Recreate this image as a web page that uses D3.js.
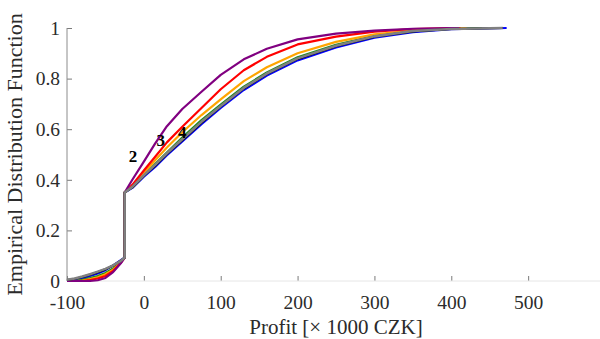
<!DOCTYPE html>
<html>
<head>
<meta charset="utf-8">
<script src="https://cdn.jsdelivr.net/npm/d3@7"></script>
<style>
  html, body { margin: 0; padding: 0; background: #fff; }
  svg { display: block; }
  text { font-family: "Liberation Serif", "Times New Roman", serif; }
</style>
</head>
<body>
<svg id="chart" width="600" height="339"></svg>
<script>
// ---- data ----
const xGrid = [-100, -90, -80, -70, -60, -50, -40, -30, -25, -25, -15, 0, 15, 30, 50, 75, 100, 130, 160, 200, 250, 300, 350, 400];

const seriesNames  = ["blue", "green", "orange", "red", "purple", "black", "gray"];
const seriesColors = ["#0000ff", "#1a8a1a", "#ffa500", "#ff0000", "#800080", "#000000", "#808080"];
const seriesEnd    = [472, 440, 420, 412, 410, 467, 467];

const yBlue   = [0.000, 0.003, 0.010, 0.020, 0.030, 0.043, 0.062, 0.082, 0.092, 0.350, 0.368, 0.412, 0.452, 0.497, 0.552, 0.620, 0.684, 0.755, 0.812, 0.872, 0.923, 0.962, 0.984, 0.995];
const yGreen  = [0.000, 0.000, 0.005, 0.012, 0.020, 0.032, 0.050, 0.078, 0.092, 0.350, 0.371, 0.418, 0.463, 0.508, 0.567, 0.636, 0.697, 0.768, 0.824, 0.884, 0.934, 0.969, 0.988, 0.997];
const yOrange = [0.000, 0.000, 0.002, 0.008, 0.015, 0.027, 0.045, 0.075, 0.092, 0.350, 0.374, 0.426, 0.478, 0.528, 0.588, 0.656, 0.718, 0.790, 0.845, 0.900, 0.945, 0.975, 0.990, 0.998];
const yRed    = [0.000, 0.000, 0.000, 0.004, 0.010, 0.020, 0.040, 0.072, 0.092, 0.350, 0.380, 0.437, 0.492, 0.548, 0.610, 0.684, 0.758, 0.833, 0.886, 0.935, 0.966, 0.986, 0.996, 1.000];
const yPurple = [0.000, 0.000, 0.000, 0.000, 0.003, 0.012, 0.035, 0.070, 0.092, 0.350, 0.400, 0.472, 0.545, 0.612, 0.680, 0.748, 0.815, 0.876, 0.918, 0.955, 0.978, 0.990, 0.997, 1.000];
const yBlack  = [0.004, 0.009, 0.016, 0.025, 0.035, 0.046, 0.061, 0.080, 0.092, 0.350, 0.370, 0.416, 0.457, 0.502, 0.557, 0.626, 0.690, 0.761, 0.818, 0.878, 0.928, 0.966, 0.987, 0.996];
const yGray   = [0.005, 0.010, 0.018, 0.027, 0.037, 0.048, 0.062, 0.080, 0.092, 0.350, 0.372, 0.418, 0.460, 0.505, 0.560, 0.629, 0.692, 0.763, 0.820, 0.880, 0.930, 0.967, 0.988, 0.996];
const seriesValues = [yBlue, yGreen, yOrange, yRed, yPurple, yBlack, yGray];

const xTicks = [-100, 0, 100, 200, 300, 400, 500];
const xTickLabels = ["-100", "0", "100", "200", "300", "400", "500"];
const yTicks = [0, 0.2, 0.4, 0.6, 0.8, 1];
const yTickLabels = ["0", "0.2", "0.4", "0.6", "0.8", "1"];

const curveLabels = ["2", "3", "4"];
const curveLabelX = [-14, 22, 50];
const curveLabelY = [0.494, 0.557, 0.590];

const xTitle = "Profit [× 1000 CZK]";
const yTitle = "Empirical Distribution Function";

// ---- layout ----
const svg = d3.select("#chart");
const x = d3.scaleLinear().domain([-100, 600]).range([67, 605]);
const y = d3.scaleLinear().domain([0, 1]).range([281, 28]);

// x axis
const gx = svg.append("g").attr("transform", `translate(0,${y(0)})`);
gx.call(d3.axisBottom(x).tickValues(xTicks).tickSize(0).tickPadding(14)
  .tickFormat((d, i) => xTickLabels[i]));
gx.select(".domain").remove();
gx.append("line").attr("x1", x(-100)).attr("x2", 600).attr("y1", 0).attr("y2", 0)
  .attr("stroke", "#e6e6e6").attr("stroke-width", 1);
gx.selectAll(".tick").append("line").attr("y1", 0).attr("y2", -5)
  .attr("stroke", "#7a7a7a").attr("stroke-width", 1);
gx.selectAll(".tick text").attr("font-size", 19.5).attr("fill", "#2b2b2b")
  .attr("font-family", "Liberation Serif");

// y axis
const gy = svg.append("g").attr("transform", `translate(${x(-100)},0)`);
gy.call(d3.axisLeft(y).tickValues(yTicks).tickSize(0).tickPadding(7)
  .tickFormat((d, i) => yTickLabels[i]));
gy.select(".domain").remove();
gy.append("line").attr("x1", 0).attr("x2", 0).attr("y1", y(0)).attr("y2", y(1))
  .attr("stroke", "#8c8c8c").attr("stroke-width", 1);
gy.selectAll(".tick").append("line").attr("x1", 0).attr("x2", 5)
  .attr("stroke", "#7a7a7a").attr("stroke-width", 1);
gy.selectAll(".tick text").attr("font-size", 19.5).attr("fill", "#2b2b2b")
  .attr("font-family", "Liberation Serif");

// lines
const line = d3.line().x(d => x(d[0])).y(d => y(d[1]));
seriesValues.forEach((vals, i) => {
  const pts = xGrid.map((xv, j) => [xv, vals[j]]);
  pts.push([seriesEnd[i], 1]);
  svg.append("path")
    .datum(pts)
    .attr("fill", "none")
    .attr("stroke", seriesColors[i])
    .attr("stroke-width", seriesNames[i] === "gray" ? 2.6 : 2.2)
    .attr("stroke-linejoin", "round")
    .attr("d", line);
});

// curve labels
curveLabels.forEach((t, i) => {
  svg.append("text")
    .attr("x", x(curveLabelX[i])).attr("y", y(curveLabelY[i]) + 6)
    .attr("text-anchor", "middle")
    .attr("font-size", 17).attr("font-weight", "bold").attr("fill", "#000")
    .text(t);
});

// titles
svg.append("text")
  .attr("x", (x(-100) + x(600)) / 2).attr("y", 334)
  .attr("text-anchor", "middle").attr("font-size", 21).attr("fill", "#2b2b2b")
  .text(xTitle);
svg.append("text")
  .attr("transform", `translate(22,${(y(0) + y(1)) / 2}) rotate(-90)`)
  .attr("text-anchor", "middle").attr("font-size", 22).attr("fill", "#2b2b2b")
  .text(yTitle);
</script>
</body>
</html>
